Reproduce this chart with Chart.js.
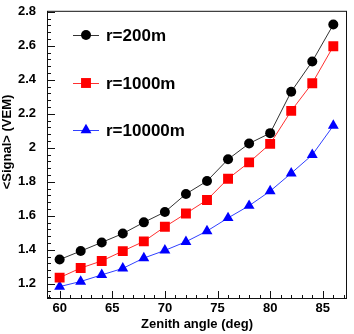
<!DOCTYPE html>
<html>
<head>
<meta charset="utf-8">
<script src="https://cdn.jsdelivr.net/npm/chart.js@4/dist/chart.umd.min.js"></script>
<style>
  html, body { margin: 0; padding: 0; background: #fff; }
  #wrap { width: 354px; height: 334px; }
</style>
</head>
<body>
<div id="wrap"><canvas id="c"></canvas></div>
<script>
// zenith angle (deg)
const angles = [60, 62, 64, 66, 68, 70, 72, 74, 76, 78, 80, 82, 84, 86];
// <Signal> (VEM) for each distance
const sig200 = [1.342, 1.392, 1.443, 1.495, 1.561, 1.622, 1.728, 1.804, 1.932, 2.025, 2.086, 2.33, 2.508, 2.725];
const sig1000 = [1.236, 1.292, 1.334, 1.392, 1.449, 1.535, 1.613, 1.693, 1.818, 1.914, 2.023, 2.217, 2.38, 2.597];
const sig10000 = [1.183, 1.213, 1.252, 1.29, 1.351, 1.396, 1.447, 1.51, 1.587, 1.659, 1.745, 1.85, 1.958, 2.13];
const seriesNames = ['r=200m', 'r=1000m', 'r=10000m'];

const FONT = '"Liberation Sans", Arial, sans-serif';

function pts(vals) {
    return angles.map((a, i) => ({ x: a, y: vals[i] }));
}

function ds(label, vals, color, lineColor, style, r) {
    return {
        label: label, data: pts(vals),
        borderColor: lineColor, borderWidth: 1, tension: 0,
        pointStyle: style, pointRadius: r, pointHoverRadius: r,
        pointBackgroundColor: color, pointBorderColor: color, pointBorderWidth: 0
    };
}

// frame, inner ticks, axis titles and legend
const rootStyle = {
    id: 'rootStyle',
    afterDraw(chart) {
        const ctx = chart.ctx, a = chart.chartArea;
        const xs = chart.scales.x, ys = chart.scales.y;
        ctx.save();
        ctx.strokeStyle = '#111';
        ctx.lineWidth = 1;
        ctx.strokeRect(a.left + 0.5, a.top + 0.5, a.right - a.left - 1, a.bottom - a.top - 1);

        ctx.beginPath();
        for (let v = Math.ceil(xs.min); v <= xs.max; v++) {
            const px = Math.round(xs.getPixelForValue(v)) + 0.5;
            const len = v % 5 === 0 ? 8 : 4;
            ctx.moveTo(px, a.bottom);
            ctx.lineTo(px, a.bottom - len);
        }
        for (let k = Math.ceil(ys.min / 0.04); k * 0.04 <= ys.max; k++) {
            const py = Math.round(ys.getPixelForValue(k * 0.04)) + 0.5;
            const len = k % 5 === 0 ? 8 : 4;
            ctx.moveTo(a.left, py);
            ctx.lineTo(a.left + len, py);
        }
        ctx.stroke();

        ctx.fillStyle = '#000';
        ctx.font = 'bold 13px ' + FONT;
        ctx.textAlign = 'center';
        ctx.textBaseline = 'middle';
        ctx.fillText('Zenith angle (deg)', 197, 324);
        ctx.translate(7, 142);
        ctx.rotate(-Math.PI / 2);
        ctx.fillText('<Signal> (VEM)', 0, 0);
        ctx.restore();

        // legend
        const rows = [35, 83, 130];
        ctx.save();
        chart.data.datasets.forEach((d, i) => {
            const y = rows[i];
            ctx.strokeStyle = d.borderColor;
            ctx.lineWidth = 1;
            ctx.beginPath();
            ctx.moveTo(73, y + 0.5);
            ctx.lineTo(99, y + 0.5);
            ctx.stroke();
            ctx.fillStyle = d.pointBackgroundColor;
            Chart.helpers.drawPoint(ctx, { pointStyle: d.pointStyle, rotation: 0, radius: d.pointRadius, borderWidth: 0 }, 86, y);
            ctx.fillStyle = '#000';
            ctx.font = 'bold 17px ' + FONT;
            ctx.textAlign = 'left';
            ctx.textBaseline = 'middle';
            ctx.fillText(seriesNames[i], 106, y + 1);
        });
        ctx.restore();
    }
};

new Chart(document.getElementById('c'), {
    type: 'line',
    data: {
        datasets: [
            ds(seriesNames[0], sig200, '#000', '#333', 'circle', 5),
            ds(seriesNames[1], sig1000, '#ff0000', '#ff3030', 'rect', 7),
            ds(seriesNames[2], sig10000, '#0000ff', '#3040ff', 'triangle', 6.3)
        ]
    },
    options: {
        responsive: true, maintainAspectRatio: false, animation: false,
        layout: { padding: { top: 5, right: 2, left: 0, bottom: 0 } },
        plugins: { legend: { display: false }, tooltip: { enabled: false } },
        scales: {
            x: {
                type: 'linear', min: 58.8, max: 87.3,
                grid: { display: false }, border: { display: false },
                ticks: { stepSize: 5, includeBounds: false, autoSkip: false, maxRotation: 0, padding: -6, color: '#000', font: { family: FONT, size: 13, weight: 'bold' } },
                afterFit(s) { s.height = 35; }
            },
            y: {
                type: 'linear', min: 1.11, max: 2.806,
                grid: { display: false }, border: { display: false },
                ticks: {
                    stepSize: 0.2, includeBounds: false, padding: 3, color: '#000',
                    font: { family: FONT, size: 13, weight: 'bold' },
                    callback: v => String(+v.toFixed(2))
                },
                afterFit(s) { s.width = 47; }
            }
        }
    },
    plugins: [rootStyle]
});
</script>
</body>
</html>
